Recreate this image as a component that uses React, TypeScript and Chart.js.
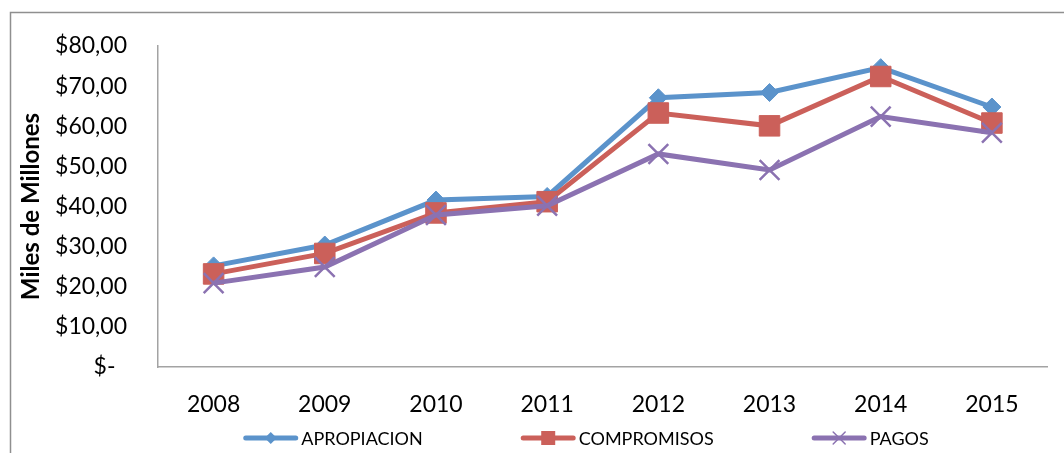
import { useEffect, useRef } from 'react';
import { Chart, registerables } from 'chart.js';

Chart.register(...registerables);

const years = ['2008', '2009', '2010', '2011', '2012', '2013', '2014', '2015'];
const apropiacion = [25.2, 30.4, 41.6, 42.5, 67.1, 68.4, 74.6, 64.8];
const compromisos = [23.2, 28.3, 38.4, 41.2, 63.3, 60.1, 72.4, 60.8];
const pagos = [20.9, 24.9, 37.9, 40.2, 53.1, 49.1, 62.4, 58.4];
const yTickLabels = ['$-\u2002', '$10,00', '$20,00', '$30,00', '$40,00', '$50,00', '$60,00', '$70,00', '$80,00'];
const seriesNames = ['APROPIACION', 'COMPROMISOS', 'PAGOS'];

const BLUE = '#5B93CB';
const RED = '#CB605A';
const PURPLE = '#8B72B1';
const AXIS = '#A3A3A3';
const FONT = 'Lato, "Open Sans", sans-serif';

const framePlugin = {
  id: 'frame',
  beforeDraw(chart: any) {
    const ctx = chart.ctx;
    ctx.save();
    ctx.strokeStyle = '#8F8F8F';
    ctx.lineWidth = 1.5;
    ctx.beginPath();
    ctx.moveTo(10.5, chart.height);
    ctx.lineTo(10.5, 12.5);
    ctx.lineTo(chart.width, 12.5);
    ctx.stroke();
    ctx.restore();
  },
};

function drawMarker(ctx: CanvasRenderingContext2D, style: string, x: number, y: number, color: string) {
  ctx.save();
  ctx.fillStyle = color;
  ctx.strokeStyle = color;
  if (style === 'rectRot') {
    const r = 6;
    ctx.beginPath();
    ctx.moveTo(x, y - r);
    ctx.lineTo(x + r, y);
    ctx.lineTo(x, y + r);
    ctx.lineTo(x - r, y);
    ctx.closePath();
    ctx.fill();
  } else if (style === 'rect') {
    const s = 7;
    ctx.fillRect(x - s, y - s, 2 * s, 2 * s);
  } else {
    const r = 6;
    ctx.lineWidth = 1.5;
    ctx.beginPath();
    ctx.moveTo(x - r, y - r);
    ctx.lineTo(x + r, y + r);
    ctx.moveTo(x + r, y - r);
    ctx.lineTo(x - r, y + r);
    ctx.stroke();
  }
  ctx.restore();
}

const legendPlugin = {
  id: 'excelLegend',
  afterDraw(chart: any) {
    const ctx: CanvasRenderingContext2D = chart.ctx;
    const ds = chart.data.datasets;
    const lineLen = 55;
    const textGap = 3;
    const itemGap = 98;
    const centerX = 586;
    const y = 438;
    ctx.save();
    ctx.font = `18px ${FONT}`;
    const widths = ds.map((d: any) => ctx.measureText(d.label).width);
    let total = 0;
    widths.forEach((w: number) => (total += lineLen + textGap + w));
    total += itemGap * (ds.length - 1);
    let x = centerX - total / 2;
    ds.forEach((d: any, i: number) => {
      ctx.strokeStyle = d.borderColor;
      ctx.lineWidth = 5;
      ctx.lineCap = 'round';
      ctx.beginPath();
      ctx.moveTo(x + 2.5, y);
      ctx.lineTo(x + lineLen - 2.5, y);
      ctx.stroke();
      drawMarker(ctx, d.pointStyle, x + lineLen / 2, y, d.borderColor);
      ctx.fillStyle = '#000';
      ctx.textBaseline = 'middle';
      ctx.textAlign = 'left';
      ctx.fillText(d.label, x + lineLen + textGap, y + 1);
      x += lineLen + textGap + widths[i] + itemGap;
    });
    ctx.restore();
  },
};

export default function App() {
  const ref = useRef<HTMLCanvasElement>(null);
  useEffect(() => {
    if (!ref.current) return;
    const chart = new Chart(ref.current, {
      type: 'line',
      data: {
        labels: years,
        datasets: [
          {
            label: seriesNames[0],
            data: apropiacion,
            borderColor: BLUE,
            backgroundColor: BLUE,
            borderWidth: 5,
            pointStyle: 'rectRot',
            pointRadius: 9,
            pointBorderWidth: 1,
            pointBackgroundColor: BLUE,
            order: 3,
          },
          {
            label: seriesNames[1],
            data: compromisos,
            borderColor: RED,
            backgroundColor: RED,
            borderWidth: 5,
            pointStyle: 'rect',
            pointRadius: 14.5,
            pointBorderWidth: 1,
            pointBackgroundColor: RED,
            order: 2,
          },
          {
            label: seriesNames[2],
            data: pagos,
            borderColor: PURPLE,
            backgroundColor: PURPLE,
            borderWidth: 5,
            pointStyle: 'crossRot',
            pointRadius: 14,
            pointBorderWidth: 2.5,
            order: 1,
          },
        ],
      },
      options: {
        animation: false,
        responsive: false,
        maintainAspectRatio: false,
        layout: { padding: { left: 0, top: 46, right: 16, bottom: 36 } },
        plugins: {
          legend: { display: false },
          tooltip: { enabled: false },
        },
        scales: {
          x: {
            offset: true,
            grid: { display: false, drawTicks: false },
            border: { display: true, color: AXIS, width: 1.5 },
            ticks: { color: '#000', font: { family: FONT, size: 23 }, padding: 24, maxRotation: 0 },
            afterFit: (s: any) => {
              s.height = 50;
            },
          },
          y: {
            min: 0,
            max: 80,
            grid: { display: false, drawTicks: false },
            border: { display: true, color: AXIS, width: 1.5 },
            ticks: {
              stepSize: 10,
              color: '#000',
              font: { family: FONT, size: 23 },
              padding: 31,
              callback: (v: any) => yTickLabels[Math.round(Number(v) / 10)],
            },
            title: {
              display: true,
              text: 'Miles de Millones',
              color: '#000',
              font: { family: FONT, size: 24, weight: 'bold' },
              padding: { top: 17, bottom: 0 },
            },
            afterFit: (s: any) => {
              s.width = 158;
            },
          },
        },
      },
      plugins: [framePlugin, legendPlugin],
    });
    return () => chart.destroy();
  }, []);
  return (
    <div style={{ position: 'absolute', left: 0, top: 0, width: 1064, height: 453, background: '#fff' }}>
      <canvas ref={ref} width={1064} height={453} style={{ display: 'block' }} />
    </div>
  );
}
